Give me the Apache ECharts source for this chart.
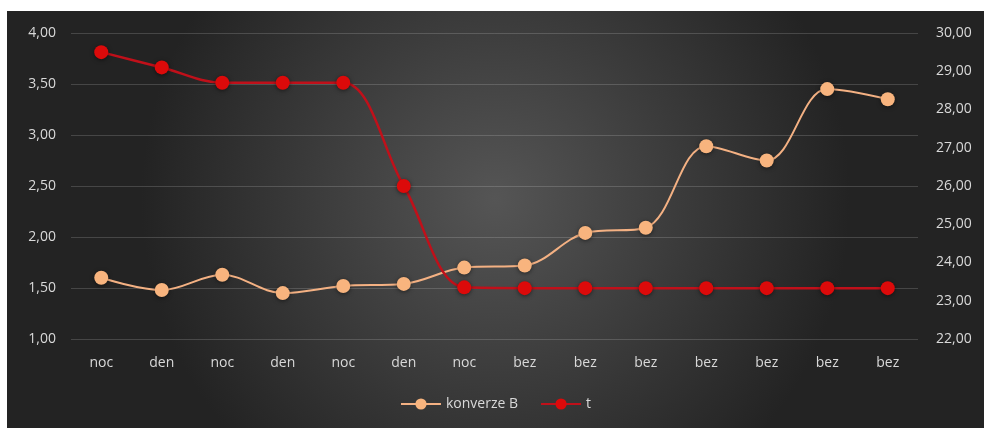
<!DOCTYPE html>
<html><head><meta charset="utf-8">
<script src="https://cdn.jsdelivr.net/npm/echarts@6/dist/echarts.min.js"></script>
<style>
html,body{margin:0;padding:0;background:#fff;width:984px;height:428px;overflow:hidden}
#c{position:absolute;left:7px;top:11px;width:977px;height:417px}
</style></head><body>
<div id="c"></div>
<script>
const categories = ['noc','den','noc','den','noc','den','noc','bez','bez','bez','bez','bez','bez','bez'];
const konverzeB = [1.60,1.48,1.63,1.45,1.52,1.54,1.70,1.72,2.04,2.09,2.89,2.75,3.45,3.35];
const tValues = [29.5,29.1,28.7,28.7,28.7,26.0,23.35,23.33,23.33,23.33,23.33,23.33,23.33,23.33];
const leftTicks = {min:1, max:4, interval:0.5};
const rightTicks = {min:22, max:30, interval:1};

const chart = echarts.init(document.getElementById('c'));
const fmt = v => v.toFixed(2).replace('.', ',');
const labelStyle = {color:'#d9d9d9', fontFamily:'Open Sans, sans-serif', fontSize:14};
chart.setOption({
  backgroundColor:{type:'radial', x:0.5, y:0.45, r:0.85, colorStops:[{offset:0,color:'#555555'},{offset:1,color:'#232323'}]},
  animation:false,
  grid:{left:64, right:66, top:22, bottom:89},
  legend:{bottom:12, left:'center', itemWidth:40, itemHeight:14, itemGap:22,
    textStyle:{color:'#d9d9d9', fontFamily:'Open Sans, sans-serif', fontSize:14},
    data:['konverze B','t']},
  xAxis:{type:'category', data:categories, boundaryGap:true,
    axisLine:{show:false}, axisTick:{show:false},
    axisLabel:Object.assign({margin:17}, labelStyle)},
  yAxis:[
    {type:'value', min:leftTicks.min, max:leftTicks.max, interval:leftTicks.interval,
     axisLabel:Object.assign({formatter:fmt, margin:15}, labelStyle),
     splitLine:{lineStyle:{color:'rgba(255,255,255,0.16)', width:1}},
     axisLine:{show:false}, axisTick:{show:false}},
    {type:'value', min:rightTicks.min, max:rightTicks.max, interval:rightTicks.interval,
     axisLabel:Object.assign({formatter:fmt, margin:18}, labelStyle),
     splitLine:{show:false}, axisLine:{show:false}, axisTick:{show:false}}
  ],
  series:[
    {name:'konverze B', type:'line', yAxisIndex:0, data:konverzeB, smooth:0.35,
     symbol:'circle', symbolSize:14,
     lineStyle:{color:'#f4b183', width:2},
     itemStyle:{color:'#f8b47e', shadowBlur:4, shadowColor:'rgba(0,0,0,0.5)', shadowOffsetY:1}},
    {name:'t', type:'line', yAxisIndex:1, data:tValues, smooth:0.35,
     symbol:'circle', symbolSize:14,
     lineStyle:{color:'#c0101a', width:2.5},
     itemStyle:{color:'#dc0a0a', shadowBlur:4, shadowColor:'rgba(0,0,0,0.5)', shadowOffsetY:1}}
  ]
});
</script></body></html>
